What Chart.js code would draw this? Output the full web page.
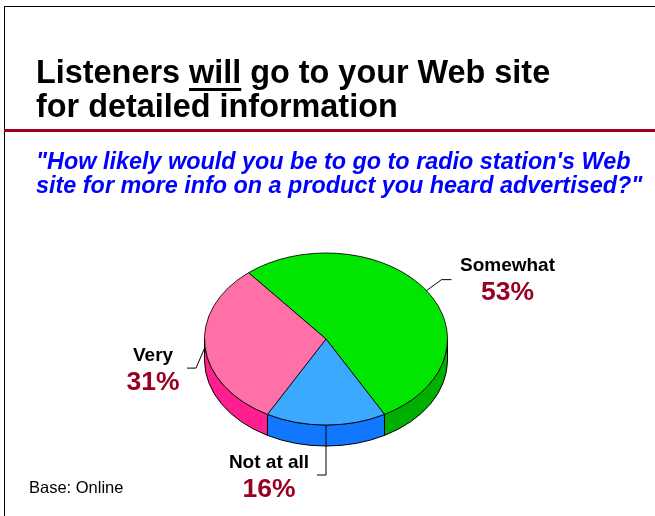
<!DOCTYPE html>
<html>
<head>
<meta charset="utf-8">
<script src="https://cdn.jsdelivr.net/npm/chart.js@4"></script>
<style>
  body { margin: 0; background: #fff; font-family: "Liberation Sans", Arial, sans-serif; }
  #page { position: relative; width: 655px; height: 516px; overflow: hidden; }
  #page canvas { position: absolute; left: 0; top: 0; }
  .frame-top { position: absolute; left: 4px; top: 6px; width: 651px; height: 1px; background: #000; }
  .frame-left { position: absolute; left: 4px; top: 6px; width: 1px; height: 510px; background: #000; }
  .rule { position: absolute; left: 4px; top: 129px; width: 651px; height: 3px; background: #990022; }
  .title { position: absolute; left: 36px; top: 55px; font-size: 32.4px; line-height: 34px; font-weight: bold; color: #000; white-space: nowrap; }
  .title u { text-decoration-thickness: 3px; text-underline-offset: 5px; text-decoration-skip-ink: none; }
  .question { position: absolute; left: 36px; top: 149px; font-size: 23.4px; line-height: 24px; font-weight: bold; font-style: italic; color: #0000ff; white-space: nowrap; }
  .base { position: absolute; left: 29px; top: 479px; font-size: 16.5px; line-height: 17px; color: #000; }
</style>
</head>
<body>
<div id="page">
  <canvas id="pieChart" width="655" height="516"></canvas>
  <div class="frame-top"></div>
  <div class="frame-left"></div>
  <div class="rule"></div>
  <div class="title">Listeners <u>will</u> go to your Web site<br>for detailed information</div>
  <div class="question">"How likely would you be to go to radio station's Web<br>site for more info on a product you heard advertised?"</div>
  <div class="base">Base: Online</div>
</div>
<script>
// Values
const categories = ['Somewhat', 'Not at all', 'Very'];
const percentages = [53, 16, 31];
const topColors = ['#00e600', '#3aa9ff', '#ff6fa8'];
const sideColors = ['#00b000', '#1177ff', '#ff1f8f'];

const squash = 0.708;  // tilt of the pie
const depth = 21;      // height of the side wall

// Where each label goes relative to the rim point at the slice's middle, and its leader elbow
const labelOffsets = [
  { x: 81, y: -20, elbow: [[15, -11], [25, -11]] },
  { x: -57, y: 43, elbow: [[0, 50], [-9, 50]] },
  { x: -52, y: 14, elbow: [[-9, 21], [-18, 21]] }
];

// Tilts the flat pie and draws the side wall under it
const tiltPlugin = {
  id: 'tilt',
  beforeDatasetsDraw(chart) {
    const ctx = chart.ctx;
    const arcs = chart.getDatasetMeta(0).data;
    const cx = arcs[0].x, cy = arcs[0].y, r = arcs[0].outerRadius;
    ctx.save();
    ctx.lineWidth = 1;
    ctx.strokeStyle = '#000';
    arcs.forEach((arc, i) => {
      // only the part of the slice facing the viewer has a wall
      const from = Math.max(arc.startAngle, 0);
      const to = Math.min(arc.endAngle, Math.PI);
      if (to <= from) return;
      ctx.beginPath();
      ctx.ellipse(cx, cy, r, r * squash, 0, from, to);
      ctx.ellipse(cx, cy + depth, r, r * squash, 0, to, from, true);
      ctx.closePath();
      ctx.fillStyle = sideColors[i];
      ctx.fill();
      ctx.stroke();
    });
    ctx.restore();
    ctx.save();
    ctx.translate(0, cy);
    ctx.scale(1, squash);
    ctx.translate(0, -cy);
  },
  afterDatasetsDraw(chart) {
    chart.ctx.restore();
  }
};

// Leader lines and the two-line labels
const labelPlugin = {
  id: 'sliceLabels',
  afterDraw(chart) {
    const ctx = chart.ctx;
    chart.getDatasetMeta(0).data.forEach((arc, i) => {
      const mid = (arc.startAngle + arc.endAngle) / 2;
      const ax = arc.x + arc.outerRadius * Math.cos(mid);
      const ay = arc.y + arc.outerRadius * squash * Math.sin(mid);
      const off = labelOffsets[i];
      ctx.save();
      ctx.strokeStyle = '#000';
      ctx.lineWidth = 1;
      ctx.beginPath();
      ctx.moveTo(ax, ay);
      off.elbow.forEach(p => ctx.lineTo(ax + p[0], ay + p[1]));
      ctx.stroke();
      ctx.textAlign = 'center';
      ctx.textBaseline = 'alphabetic';
      ctx.fillStyle = '#000';
      ctx.font = 'bold 19px "Liberation Sans"';
      ctx.fillText(categories[i], ax + off.x, ay + off.y);
      ctx.fillStyle = '#990022';
      ctx.font = 'bold 26.5px "Liberation Sans"';
      ctx.fillText(percentages[i] + '%', ax + off.x, ay + off.y + 29);
      ctx.restore();
    });
  }
};

new Chart(document.getElementById('pieChart').getContext('2d'), {
  type: 'pie',
  data: {
    labels: categories,
    datasets: [{
      data: percentages,
      backgroundColor: topColors,
      borderColor: '#000',
      borderWidth: 1
    }]
  },
  options: {
    responsive: false,
    animation: false,
    events: [],
    rotation: -39.6,
    layout: { padding: { left: 204, right: 207, top: 217, bottom: 55 } },
    plugins: { legend: { display: false }, tooltip: { enabled: false } }
  },
  plugins: [tiltPlugin, labelPlugin]
});
</script>
</body>
</html>
